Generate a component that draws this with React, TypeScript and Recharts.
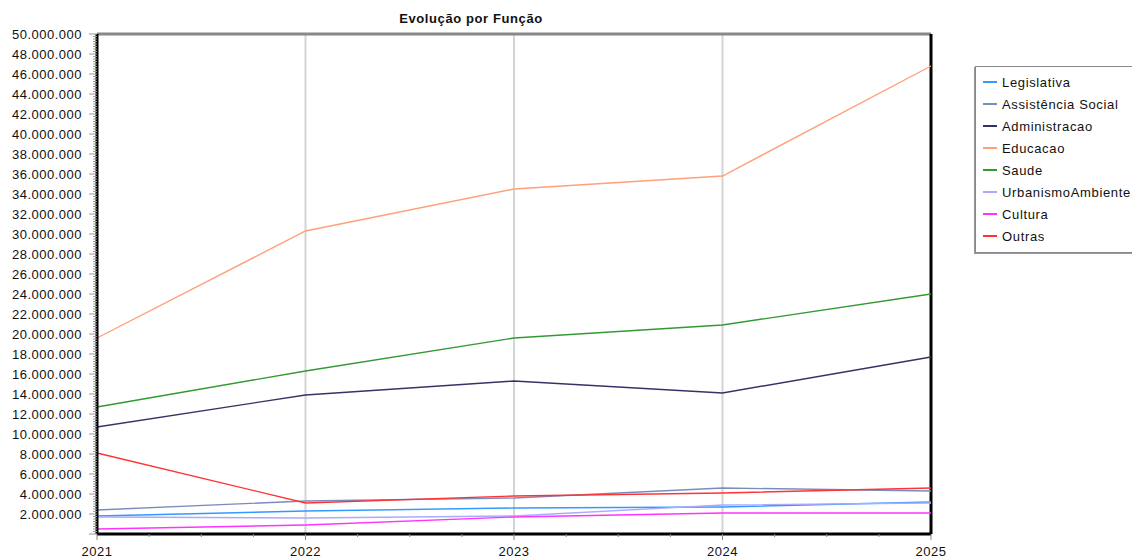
import { LineChart, Line, XAxis, YAxis, ReferenceLine, Legend } from 'recharts';

const years = [2021, 2022, 2023, 2024, 2025];

const legislativa = [1800000, 2300000, 2600000, 2700000, 3200000];
const assistencia = [2400000, 3300000, 3600000, 4600000, 4300000];
const administracao = [10700000, 13900000, 15300000, 14100000, 17700000];
const educacao = [19600000, 30300000, 34500000, 35800000, 46800000];
const saude = [12700000, 16300000, 19600000, 20900000, 24000000];
const urbanismo = [1700000, 1600000, 1800000, 2900000, 3100000];
const cultura = [500000, 900000, 1700000, 2100000, 2100000];
const outras = [8100000, 3100000, 3800000, 4100000, 4600000];

const series = [
  { key: 'legislativa', name: 'Legislativa', color: '#3399ff', values: legislativa },
  { key: 'assistencia', name: 'Assistência Social', color: '#7b8dc0', values: assistencia },
  { key: 'administracao', name: 'Administracao', color: '#333366', values: administracao },
  { key: 'educacao', name: 'Educacao', color: '#ffa07a', values: educacao },
  { key: 'saude', name: 'Saude', color: '#339933', values: saude },
  { key: 'urbanismo', name: 'UrbanismoAmbiente', color: '#aaaaff', values: urbanismo },
  { key: 'cultura', name: 'Cultura', color: '#ff33ff', values: cultura },
  { key: 'outras', name: 'Outras', color: '#ff3333', values: outras },
];

const data = years.map((year, i) => {
  const row: Record<string, number> = { year };
  series.forEach((s) => {
    row[s.key] = s.values[i];
  });
  return row;
});

// major + minor tick positions
const xTicks: number[] = [];
for (let i = 0; i <= 16; i++) xTicks.push(2021 + i * 0.25);
const yTicks: number[] = [];
for (let i = 0; i <= 200; i++) yTicks.push(i * 250000);

const fmt = (v: number) => String(v).replace(/\B(?=(\d{3})+(?!\d))/g, '.');

function XTick(props: any) {
  const { x, y, payload } = props;
  const v = payload.value as number;
  const major = Number.isInteger(v);
  return (
    <g>
      <line x1={x} x2={x} y1={y} y2={y + (major ? 6 : 3)} stroke="#888" />
      {major && (
        <text x={x} y={y} dy={22} textAnchor="middle" fontSize={13} fill="#111" letterSpacing={0.5}>
          {v}
        </text>
      )}
    </g>
  );
}

function YTick(props: any) {
  const { x, y, payload } = props;
  const v = payload.value as number;
  const major = v % 2000000 === 0;
  return (
    <g>
      <line x1={x - (major ? 8 : 4)} x2={x} y1={y} y2={y} stroke="#999" />
      {major && v > 0 && (
        <text x={x - 15} y={y} dy={4.5} textAnchor="end" fontSize={13} fill="#111" letterSpacing={0.5}>
          {fmt(v)}
        </text>
      )}
    </g>
  );
}

function LegendBox() {
  return (
    <div
      style={{
        border: '1px solid #888',
        boxShadow: '-1px 1px 0 #999',
        background: '#fff',
        padding: '4px 0 5px 7px',
        width: 180,
      }}
    >
      {series.map((s) => (
        <div key={s.key} style={{ display: 'flex', alignItems: 'center', height: 22 }}>
          <div style={{ width: 14, height: 2, background: s.color, marginRight: 5 }} />
          <span style={{ fontSize: 13, color: '#111', letterSpacing: 0.65, whiteSpace: 'nowrap' }}>
            {s.name}
          </span>
        </div>
      ))}
    </div>
  );
}

export default function App() {
  return (
    <div
      style={{
        position: 'absolute',
        left: 0,
        top: 0,
        width: 1132,
        height: 559,
        overflow: 'hidden',
        background: '#fff',
        fontFamily: '"Liberation Sans", Arial, sans-serif',
      }}
    >
      <div
        style={{
          position: 'absolute',
          left: 0,
          top: 11,
          width: 942,
          textAlign: 'center',
          fontSize: 13,
          fontWeight: 'bold',
          color: '#111',
          letterSpacing: 0.6,
        }}
      >
        Evolução por Função
      </div>
      <LineChart width={1132} height={559} data={data} margin={{ top: 34, right: 201, bottom: 0, left: 0 }}>
        <XAxis
          dataKey="year"
          type="number"
          domain={[2021, 2025]}
          ticks={xTicks}
          interval={0}
          height={25}
          tickSize={0}
          tickMargin={0}
          tickLine={false}
          tick={<XTick />}
          axisLine={{ stroke: '#000', strokeWidth: 3 }}
        />
        <YAxis
          type="number"
          domain={[0, 50000000]}
          ticks={yTicks}
          interval={0}
          width={97}
          tickSize={0}
          tickMargin={0}
          tickLine={false}
          tick={<YTick />}
          axisLine={{ stroke: '#000', strokeWidth: 3 }}
        />
        {[2022, 2023, 2024].map((yr) => (
          <ReferenceLine key={yr} x={yr} stroke="#d4d4d4" strokeWidth={2} />
        ))}
        <ReferenceLine y={50000000} stroke="#888" strokeWidth={3} />
        <ReferenceLine x={2025} stroke="#000" strokeWidth={3} />
        {series.map((s) => (
          <Line
            key={s.key}
            type="linear"
            dataKey={s.key}
            name={s.name}
            stroke={s.color}
            strokeWidth={1.4}
            dot={false}
            isAnimationActive={false}
          />
        ))}
        <Legend
          layout="vertical"
          align="center"
          verticalAlign="middle"
          wrapperStyle={{ left: 975, top: 66, width: 180 }}
          content={() => <LegendBox />}
        />
      </LineChart>
    </div>
  );
}
